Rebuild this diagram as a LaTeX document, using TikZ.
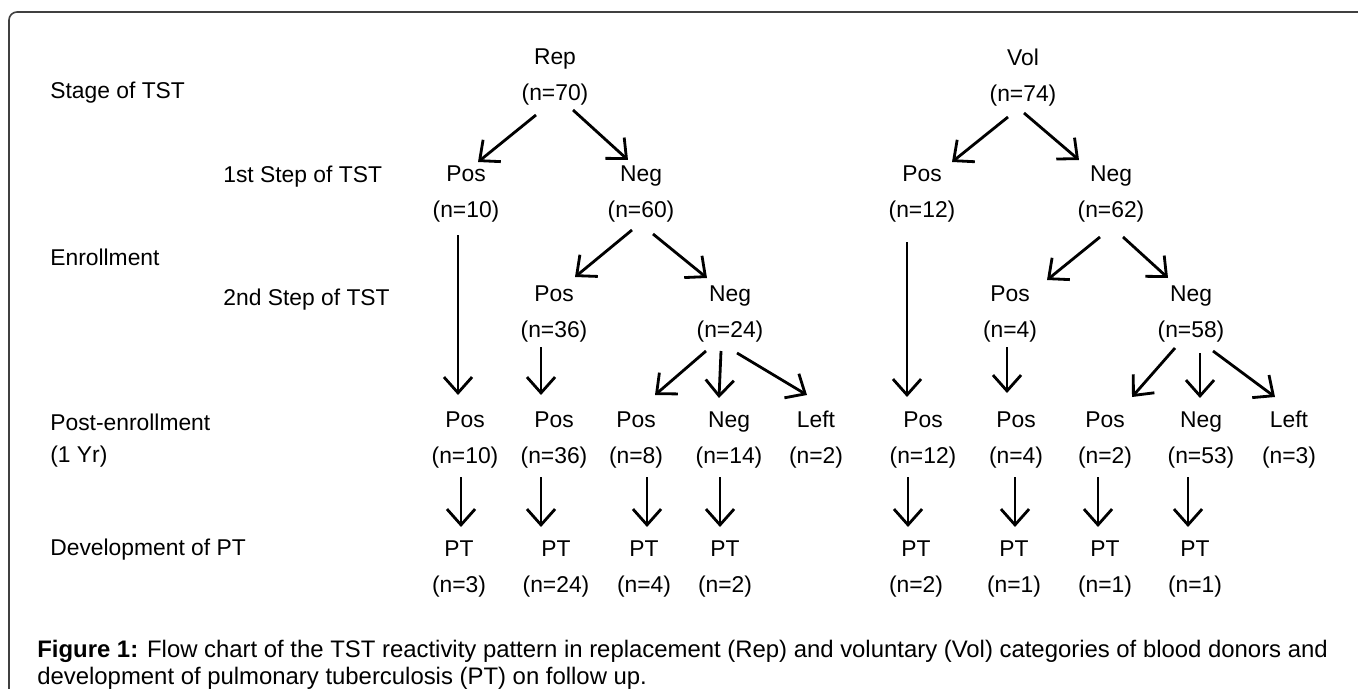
\documentclass[tikz,border=0pt]{standalone}
\usepackage{fontspec}
\setmainfont{Liberation Sans}
\usetikzlibrary{arrows.meta, calc}

\begin{document}
\begin{tikzpicture}[x=0.02cm, y=-0.02cm,
  grp/.style={align=center, inner sep=0pt, font=\fontsize{13}{20.5}\selectfont},
  stage/.style={anchor=west, inner sep=0pt, font=\fontsize{13}{16}\selectfont},
  arr/.style={draw, line width=1.6pt, -{Straight Barb[length=9pt,width=16pt]}},
  frame/.style={draw=black!75, line width=0.9pt, rounded corners=0.16cm}
]
\useasboundingbox (0,0) rectangle (1358,689);
\draw[frame] (9,689) -- (9,12) -- (1358,12);

% Stages (left column)
\node[stage] (S1) at (50,93)  {Stage of TST};
\node[stage] (S2) at (223,177) {1st Step of TST};
\node[stage] (S3) at (50,257) {Enrollment};
\node[stage] (S4) at (223,300) {2nd Step of TST};
\node[stage] (S5) at (50,422) {Post-enrollment};
\node[stage] (S6) at (50,457) {(1 Yr)};
\node[stage] (S7) at (50,550) {Development of PT};

% Replacement donors
\node[grp] (R)  at (555,77.5) {Rep\\(n=70)};
\node[grp] (P1) at (466,194) {Pos\\(n=10)};
\node[grp] (N1) at (641,194) {Neg\\(n=60)};
\node[grp] (P2) at (554,314) {Pos\\(n=36)};
\node[grp] (N2) at (730,314) {Neg\\(n=24)};
\node[grp] (Q1) at (465,440) {Pos\\(n=10)};
\node[grp] (Q2) at (554,440) {Pos\\(n=36)};
\node[grp] (Q3) at (636,440) {Pos\\(n=8)};
\node[grp] (Q4) at (729,440) {Neg\\(n=14)};
\node[grp] (Q5) at (816,440) {Left\\(n=2)};
\node[grp] (T1) at (459,569) {PT\\(n=3)};
\node[grp] (T2) at (556,569) {PT\\(n=24)};
\node[grp] (T3) at (644,569) {PT\\(n=4)};
\node[grp] (T4) at (725,569) {PT\\(n=2)};

\draw[arr] ($(R)+(-19,37.5)$) -- ($(P1)+(12,-32)$);
\draw[arr] ($(R)+(18,32.5)$)  -- ($(N1)+(-13,-34)$);
\draw[arr] ($(N1)+(-9,36)$)   -- ($(P2)+(21,-37)$);
\draw[arr] ($(N1)+(12,40)$)   -- ($(N2)+(-23,-36)$);
\draw[arr] ($(P1)+(-8,41)$)   -- ($(Q1)+(-7,-45)$);
\draw[arr] ($(P2)+(-13,33)$)  -- ($(Q2)+(-13,-45)$);
\draw[arr] ($(N2)+(-24,37)$)  -- ($(Q3)+(19,-45)$);
\draw[arr] ($(N2)+(-9,37)$)   -- ($(Q4)+(-10,-42)$);
\draw[arr] ($(N2)+(7,39)$)    -- ($(Q5)+(-9,-45)$);
\draw[arr] ($(Q1)+(-4,37)$)   -- ($(T1)+(2,-42)$);
\draw[arr] ($(Q2)+(-13,37)$)  -- ($(T2)+(-15,-42)$);
\draw[arr] ($(Q3)+(11,37)$)   -- ($(T3)+(3,-42)$);
\draw[arr] ($(Q4)+(-9,37)$)   -- ($(T4)+(-5,-42)$);

% Voluntary donors
\node[grp] (V)   at (1023,77.5) {Vol\\(n=74)};
\node[grp] (P3)  at (922,194)  {Pos\\(n=12)};
\node[grp] (N3)  at (1111,194) {Neg\\(n=62)};
\node[grp] (P4)  at (1010,314) {Pos\\(n=4)};
\node[grp] (N4)  at (1191,314) {Neg\\(n=58)};
\node[grp] (Q6)  at (923,440)  {Pos\\(n=12)};
\node[grp] (Q7)  at (1016,440) {Pos\\(n=4)};
\node[grp] (Q8)  at (1105,440) {Pos\\(n=2)};
\node[grp] (Q9)  at (1201,440) {Neg\\(n=53)};
\node[grp] (Q10) at (1289,440) {Left\\(n=3)};
\node[grp] (T5)  at (916,569)  {PT\\(n=2)};
\node[grp] (T6)  at (1014,569) {PT\\(n=1)};
\node[grp] (T7)  at (1105,569) {PT\\(n=1)};
\node[grp] (T8)  at (1195,569) {PT\\(n=1)};

\draw[arr] ($(V)+(-15,39.5)$)  -- ($(P3)+(30,-32)$);
\draw[arr] ($(V)+(1,35.5)$)    -- ($(N3)+(-32,-34)$);
\draw[arr] ($(N3)+(-11,43)$)   -- ($(P4)+(37,-34)$);
\draw[arr] ($(N3)+(12,43)$)    -- ($(N4)+(-23,-36)$);
\draw[arr] ($(P3)+(-15,48)$)   -- ($(Q6)+(-16,-43)$);
\draw[arr] ($(P4)+(-3,33)$)    -- ($(Q7)+(-9,-47)$);
\draw[arr] ($(N4)+(-16,34)$)   -- ($(Q8)+(27,-43)$);
\draw[arr] ($(N4)+(9,39)$)     -- ($(Q9)+(-1,-42)$);
\draw[arr] ($(N4)+(22,37)$)    -- ($(Q10)+(-14,-43)$);
\draw[arr] ($(Q6)+(-15,37)$)   -- ($(T5)+(-8,-42)$);
\draw[arr] ($(Q7)+(-1,37)$)    -- ($(T6)+(1,-42)$);
\draw[arr] ($(Q8)+(-7,37)$)    -- ($(T7)+(-7,-42)$);
\draw[arr] ($(Q9)+(-13,37)$)   -- ($(T8)+(-7,-42)$);

% Caption
\node[anchor=west, align=left, inner sep=0pt, font=\fontsize{13.6}{15.4}\selectfont] (cap) at (37,665)
  {\textbf{Figure 1:} Flow chart of the TST reactivity pattern in replacement (Rep) and voluntary (Vol) categories of blood donors and\\
   development of pulmonary tuberculosis (PT) on follow up.};
\end{tikzpicture}
\end{document}
